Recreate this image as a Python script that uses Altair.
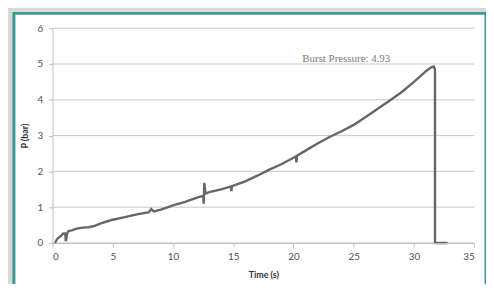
import altair as alt
import pandas as pd

time_s = [0.2, 0.4, 0.7, 0.9, 1.05, 1.1, 1.2, 1.3, 1.6, 2.0, 2.5, 3.0, 3.5, 4.0, 4.5,
          5.0, 6.0, 7.0, 8.0, 8.2, 8.4, 9.0, 10.0, 11.0, 12.0, 12.5, 12.55, 12.6, 12.7,
          13.0, 14.0, 14.8, 14.85, 14.9, 16.0, 17.0, 18.0, 19.0, 20.0, 20.2, 20.25, 20.3,
          21.0, 22.0, 23.0, 24.0, 25.0, 26.0, 27.0, 28.0, 29.0, 30.0, 30.5, 31.0, 31.4,
          31.65, 31.75, 31.75, 32.8]
pressure = [0.0, 0.12, 0.2, 0.27, 0.27, 0.05, 0.25, 0.33, 0.35, 0.4, 0.43, 0.44, 0.48, 0.55, 0.6,
            0.65, 0.72, 0.8, 0.86, 0.95, 0.88, 0.93, 1.05, 1.15, 1.27, 1.32, 1.1, 1.68, 1.38,
            1.42, 1.5, 1.58, 1.45, 1.59, 1.72, 1.88, 2.05, 2.2, 2.38, 2.42, 2.25, 2.44,
            2.58, 2.78, 2.96, 3.12, 3.3, 3.52, 3.75, 3.98, 4.22, 4.5, 4.65, 4.8, 4.9,
            4.93, 4.85, 0.0, 0.0]

burst_time = [31.65]
burst_pressure = [4.93]
burst_label = ["Burst Pressure: 4.93"]

x_ticks = [0, 5, 10, 15, 20, 25, 30, 35]
y_ticks = [0, 1, 2, 3, 4, 5, 6]

df = pd.DataFrame({"t": time_s, "p": pressure, "i": list(range(len(time_s)))})
ann = pd.DataFrame({"t": burst_time, "p": burst_pressure, "label": burst_label})
grid = pd.DataFrame({"g": y_ticks})
one = pd.DataFrame({"a": [0]})

xscale = alt.Scale(domain=[0, 35], nice=False)
yscale = alt.Scale(domain=[0, 6], nice=False)

card = alt.Chart(one).mark_rect(
    fill="white", stroke="#3a9898", strokeWidth=3
).encode(
    x=alt.value(-39), x2=alt.value(438), y=alt.value(-15), y2=alt.value(262)
)

gridlines = alt.Chart(grid).mark_rule(color="#c8c8c8", strokeWidth=1).encode(
    y=alt.Y("g:Q", scale=yscale, title="P (bar)",
            axis=alt.Axis(values=y_ticks, tickCount=7, grid=False, domainColor="#bdbdbd",
                          tickColor="#bdbdbd", tickSize=4, labelPadding=6,
                          labelOverlap=False, titleFontWeight="bold", titlePadding=7,
                          zindex=2)),
)

line = alt.Chart(df).mark_line(color="#666666", strokeWidth=2.4).encode(
    x=alt.X("t:Q", title="Time (s)", scale=xscale,
            axis=alt.Axis(values=x_ticks, grid=False, domainColor="#bdbdbd",
                          tickColor="#bdbdbd", tickSize=4, labelPadding=5,
                          titleFontWeight="bold", titlePadding=9, zindex=2)),
    y=alt.Y("p:Q", scale=yscale),
    order="i:Q",
)

text = alt.Chart(ann).mark_text(
    align="right", baseline="bottom", dx=-44, dy=-3,
    font="Liberation Serif", fontSize=11, color="#7a7a7a"
).encode(x=alt.X("t:Q", scale=xscale), y=alt.Y("p:Q", scale=yscale), text="label:N")

chart = alt.layer(card, gridlines, line, text).properties(
    width=426, height=217,
    autosize=alt.AutoSizeParams(type="none"),
    padding={"left": 45, "top": 19, "right": 12, "bottom": 40},
    background="#d9d9d7",
).configure_axis(
    labelFont="Lato", labelFontSize=10, labelColor="#505050",
    titleFont="Lato", titleFontSize=9, titleColor="#333333",
).configure_view(stroke=None)

chart.save("out.html", embed_options={"renderer": "svg", "actions": False})
